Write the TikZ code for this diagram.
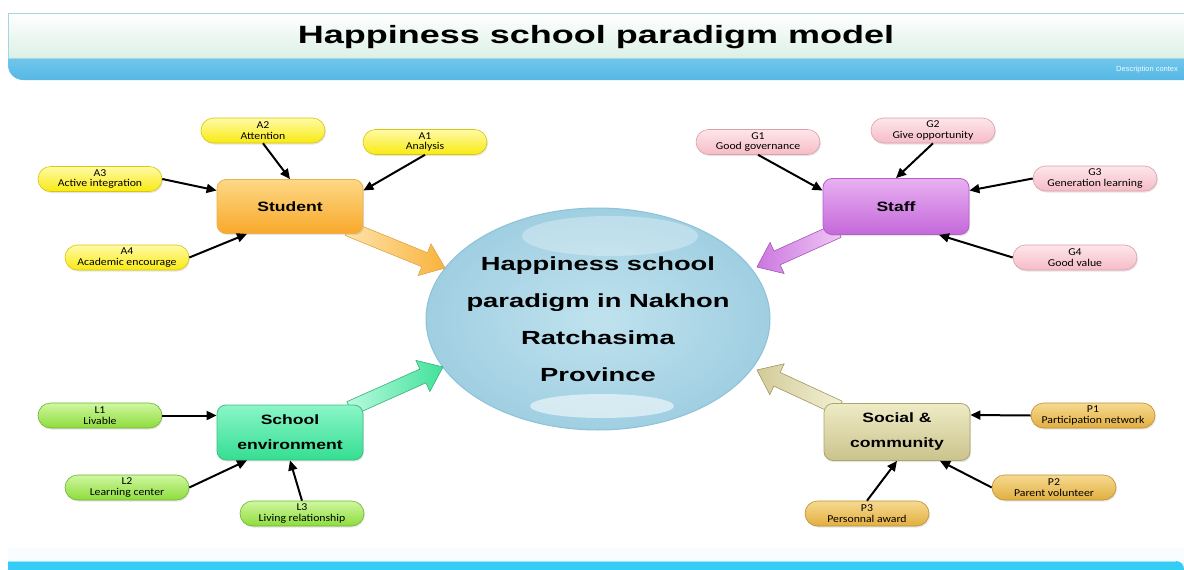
\documentclass[tikz,border=0pt]{standalone}
\usepackage{fontspec}
\setmainfont{Liberation Sans}
\newfontfamily\labfont[FakeStretch=1.12]{Carlito}
\newfontfamily\widefont[FakeStretch=1.44]{Liberation Sans}
\newfontfamily\boxfont[FakeStretch=1.3]{Liberation Sans}
\usetikzlibrary{arrows.meta,calc,shapes.geometric,shadows}
\definecolor{hdrmint}{HTML}{DCF0E6}
\definecolor{hdrline}{HTML}{A6D6E0}
\definecolor{bandtop}{HTML}{70C6EC}
\definecolor{bandbot}{HTML}{56B8E4}
\definecolor{footblue}{HTML}{35CDF6}
\definecolor{ylTop}{HTML}{FFFAA8}
\definecolor{ylBot}{HTML}{F9EA10}
\definecolor{ylLine}{HTML}{D9C80A}
\definecolor{pkTop}{HTML}{FDE6EA}
\definecolor{pkBot}{HTML}{F6BCC6}
\definecolor{pkLine}{HTML}{DDA0AA}
\definecolor{grTop}{HTML}{CFF7A0}
\definecolor{grBot}{HTML}{8EDC3C}
\definecolor{grLine}{HTML}{6DB82C}
\definecolor{gdTop}{HTML}{F6DA90}
\definecolor{gdBot}{HTML}{E2AE40}
\definecolor{gdLine}{HTML}{BF9030}
\definecolor{orTop}{HTML}{FDD886}
\definecolor{orBot}{HTML}{F8A92A}
\definecolor{orLine}{HTML}{EDB050}
\definecolor{puTop}{HTML}{E9B0F2}
\definecolor{puBot}{HTML}{C468DA}
\definecolor{puLine}{HTML}{B062C8}
\definecolor{mnTop}{HTML}{8AF6C8}
\definecolor{mnBot}{HTML}{34DE92}
\definecolor{mnLine}{HTML}{40BE84}
\definecolor{khTop}{HTML}{EEEBC6}
\definecolor{khBot}{HTML}{CBC38C}
\definecolor{khLine}{HTML}{ADA56E}
\definecolor{elIn}{HTML}{C0E2EE}
\definecolor{elOut}{HTML}{A0CFE2}
\definecolor{elLine}{HTML}{8EC2D8}
\tikzset{
  pill/.style={rectangle, rounded corners=12.5pt, minimum width=124pt, minimum height=25pt,
    inner sep=0pt, align=center, line width=0.6pt,
    font={\labfont\fontsize{10.5}{10.5}\selectfont},
    drop shadow={opacity=0.2, shadow xshift=1pt, shadow yshift=-1.5pt}},
  ypill/.style={pill, top color=ylTop, bottom color=ylBot, draw=ylLine},
  ppill/.style={pill, top color=pkTop, bottom color=pkBot, draw=pkLine},
  gpill/.style={pill, top color=grTop, bottom color=grBot, draw=grLine},
  dpill/.style={pill, top color=gdTop, bottom color=gdBot, draw=gdLine},
  hub/.style={rectangle, rounded corners=9pt, minimum width=146pt, minimum height=54pt,
    inner sep=0pt, align=center, line width=0.8pt,
    font={\boxfont\bfseries\fontsize{13.5}{25}\selectfont},
    drop shadow={opacity=0.2, shadow xshift=1pt, shadow yshift=-1.5pt}},
  conn/.style={line width=2pt, black, -{Triangle[length=10pt,width=9pt]}},
  big/.style={line width=0.6pt}
}
\newcommand{\bigarrow}[3]{%
  \coordinate (bh) at ($(#2)!22pt!(#1)$);
  \filldraw[big,#3] ($(#1)!7.5pt!90:(#2)$) -- ($(bh)!7.5pt!90:(#2)$) -- ($(bh)!17pt!90:(#2)$)
    -- (#2) -- ($(bh)!17pt!-90:(#2)$) -- ($(bh)!7.5pt!-90:(#2)$) -- ($(#1)!7.5pt!-90:(#2)$) -- cycle;}
\begin{document}
\begin{tikzpicture}[x=1pt,y=-1pt]
\useasboundingbox (0,0) rectangle (1184,570);
\fill[white] (0,0) rectangle (1184,570);
% header
\shade[top color=white, bottom color=hdrmint] (8,13) rectangle (1184,58);
\draw[hdrline, line width=0.8pt] (1184,13) -- (8,13) -- (8,58);
\begin{scope}
  \clip[rounded corners=15pt] (8,30) rectangle (1220,80);
  \shade[top color=bandtop, bottom color=bandbot] (8,58) rectangle (1184,80);
\end{scope}
\draw[hdrline, line width=0.6pt] (8,58) -- (1184,58);
\node[font={\widefont\bfseries\fontsize{25}{30}\selectfont}, inner sep=0pt] (title) at (596,37) {Happiness school paradigm model};
\node[font={\fontsize{7.5}{8}\selectfont}, text=white!92!bandtop, anchor=west, inner sep=0pt] (desc) at (1116,70) {Description contex};
% footer
\fill[footblue!3] (8,548) rectangle (1184,561);
\begin{scope}
  \clip[rounded corners=8pt] (-20,561) rectangle (1184,600);
  \fill[footblue] (8,561) rectangle (1184,570);
\end{scope}
\draw[footblue!50!white, line width=0.6pt] (8,561) -- (1176,561);
% central ellipse
\node[ellipse, minimum width=344pt, minimum height=222pt, inner sep=0pt, inner color=elIn, outer color=elOut,
  draw=elLine, line width=1pt,
  path picture={
    \fill[white, opacity=0.3] ($(path picture bounding box.north)+(12,28)$) ellipse [x radius=88pt, y radius=20pt];
    \fill[white, opacity=0.55] ($(path picture bounding box.south)+(4,-24)$) ellipse [x radius=72pt, y radius=12pt];
  }] (C) at (598,319) {};
\node[align=center, inner sep=0pt, font={\widefont\bfseries\fontsize{19}{37}\selectfont}] (Ctext) at (C.center) {Happiness school\\paradigm in Nakhon\\Ratchasima\\Province};
% tips of big arrows
\coordinate (tS) at (445,268);
\coordinate (tF) at (757,267);
\coordinate (tE) at (443,367);
\coordinate (tP) at (757,370);
\path (290,206.5) coordinate (cS) (896,206.5) coordinate (cF) (290,432.5) coordinate (cE) (897,432) coordinate (cP);
\coordinate (sS) at ($(cS)+(58,22)$);
\coordinate (sF) at ($(cF)+(-58,24)$);
\coordinate (sE) at ($(cE)+(60,-24)$);
\coordinate (sP) at ($(cP)+(-58,-24)$);
\bigarrow{sS}{tS}{left color=orTop!70!white, right color=orBot!80!orTop, draw=orLine}
\bigarrow{sF}{tF}{right color=puTop!70!white, left color=puBot!80!puTop, draw=puLine}
\bigarrow{sE}{tE}{left color=mnTop!60!white, right color=mnBot!85!mnTop, draw=mnLine}
\bigarrow{sP}{tP}{right color=khTop!70!white, left color=khBot!80!khTop, draw=khLine}
% hubs
\node[hub, top color=orTop, bottom color=orBot, draw=orLine] (Student) at (cS) {Student};
\node[hub, top color=puTop, bottom color=puBot, draw=puLine, minimum height=56pt] (Staff) at (cF) {Staff};
\node[hub, top color=mnTop, bottom color=mnBot, draw=mnLine, minimum height=55pt] (Env) at (cE) {School\\environment};
\node[hub, top color=khTop, bottom color=khBot, draw=khLine, minimum height=57pt] (Soc) at (cP) {Social \&\\community};
% pills
\node[ypill] (A1) at (425,142) {A1\\Analysis};
\node[ypill] (A2) at (263,130.5) {A2\\Attention};
\node[ypill] (A3) at (100,179) {A3\\Active integration};
\node[ypill] (A4) at (127,257.5) {A4\\Academic encourage};
\node[ppill] (G1) at (758,142) {G1\\Good governance};
\node[ppill] (G2) at (933,130.5) {G2\\Give opportunity};
\node[ppill] (G3) at (1095,178.5) {G3\\Generation learning};
\node[ppill] (G4) at (1075,257.5) {G4\\Good value};
\node[gpill] (L1) at (100,415.5) {L1\\Livable};
\node[gpill] (L2) at (127,487.5) {L2\\Learning center};
\node[gpill] (L3) at (302,513.5) {L3\\Living relationship};
\node[dpill] (P1) at (1093,415.5) {P1\\Participation network};
\node[dpill] (P2) at (1054,487.5) {P2\\Parent volunteer};
\node[dpill] (P3) at (867,513.5) {P3\\Personnal award};
% connectors
\draw[conn] (A2.south) -- (Student.north);
\draw[conn] (A1.south) -- ([yshift=16pt]Student.east);
\draw[conn] (A3.east) -- ([yshift=16pt]Student.west);
\draw[conn] (A4.east) -- ([xshift=-43pt]Student.south);
\draw[conn] (G1.south) -- ([yshift=16pt]Staff.west);
\draw[conn] (G2.south) -- (Staff.north);
\draw[conn] (G3.west) -- ([yshift=16pt]Staff.east);
\draw[conn] (G4.west) -- ([xshift=43pt]Staff.south);
\draw[conn] (L1.east) -- ([yshift=17pt]Env.west);
\draw[conn] (L2.east) -- ([xshift=-43pt]Env.south);
\draw[conn] (L3.north) -- (Env.south);
\draw[conn] (P1.west) -- ([yshift=17pt]Soc.east);
\draw[conn] (P2.west) -- ([xshift=43pt]Soc.south);
\draw[conn] (P3.north) -- (Soc.south);
\end{tikzpicture}
\end{document}
